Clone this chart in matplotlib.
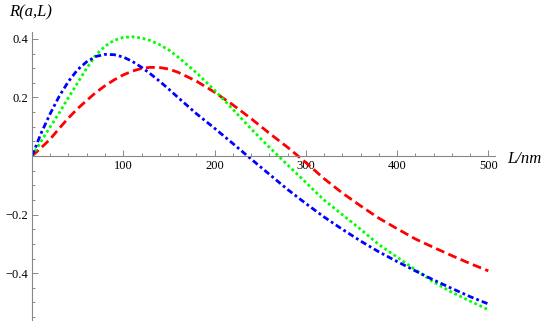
import matplotlib
matplotlib.use("Agg")
import matplotlib.pyplot as plt
from matplotlib.ticker import MultipleLocator, FixedLocator, FuncFormatter

# values
L_nm = [0, 10, 20, 30, 40, 50, 60, 70, 80, 90, 100, 110, 120, 130, 140, 150,
        160, 180, 200, 220, 240, 260, 280, 300, 320, 340, 360, 380, 400, 420,
        440, 460, 480, 500]

R_red = [0.0, 0.028, 0.058, 0.095, 0.13, 0.162, 0.19, 0.217, 0.24, 0.26,
         0.277, 0.29, 0.299, 0.303, 0.302, 0.297, 0.286, 0.256, 0.218, 0.175,
         0.128, 0.078, 0.03, -0.022, -0.077, -0.126, -0.17, -0.212, -0.248,
         -0.283, -0.312, -0.34, -0.367, -0.392]

R_green = [0.0, 0.05, 0.1, 0.148, 0.2, 0.25, 0.3, 0.345, 0.375, 0.395,
           0.405, 0.407, 0.403, 0.394, 0.38, 0.362, 0.338, 0.285, 0.225, 0.16,
           0.093, 0.03, -0.03, -0.09, -0.15, -0.2, -0.25, -0.302, -0.345,
           -0.388, -0.43, -0.465, -0.495, -0.525]

R_blue = [0.0, 0.078, 0.145, 0.205, 0.255, 0.295, 0.322, 0.34, 0.347, 0.346,
          0.338, 0.323, 0.303, 0.28, 0.255, 0.228, 0.2, 0.145, 0.095, 0.043,
          -0.01, -0.062, -0.114, -0.162, -0.208, -0.25, -0.29, -0.327, -0.36,
          -0.392, -0.423, -0.452, -0.48, -0.505]

x_major = [100, 200, 300, 400, 500]
y_major = [-0.4, -0.2, 0.2, 0.4]

plt.rcParams["font.family"] = ["Liberation Serif", "DejaVu Serif"]

fig = plt.figure(figsize=(5.45, 3.22), dpi=100)
ax = fig.add_axes([0.0587, 0.006, 0.849, 0.896])

ax.plot(L_nm, R_red, color=(1, 0, 0), lw=2.0, dashes=(3.2, 1.6))
ax.plot(L_nm, R_green, color=(0, 1, 0), lw=2.0, dashes=(1.0, 1.0))
ax.plot(L_nm, R_blue, color=(0, 0, 1), lw=2.0, dashes=(2.2, 1.1, 1.0, 1.1))

ax.set_xlim(0, 507)
ax.set_ylim(-0.56, 0.425)

# Mathematica style axes crossing at the origin
ax.spines["top"].set_visible(False)
ax.spines["right"].set_visible(False)
ax.spines["bottom"].set_position(("data", 0))
ax.spines["left"].set_position(("data", 0))
for s in ("bottom", "left"):
    ax.spines[s].set_color("#888888")
    ax.spines[s].set_linewidth(0.8)

ax.xaxis.set_major_locator(FixedLocator(x_major))
ax.xaxis.set_minor_locator(MultipleLocator(20))
ax.yaxis.set_major_locator(FixedLocator(y_major))
ax.yaxis.set_minor_locator(MultipleLocator(0.05))
ax.xaxis.set_major_formatter(FuncFormatter(lambda v, p: f"{v:.0f}"))
ax.yaxis.set_major_formatter(
    FuncFormatter(lambda v, p: f"{v:.1f}".replace("-", "\u2212")))

ax.tick_params(which="both", direction="in", color="#888888", width=0.7,
               labelsize=9, pad=3)
ax.tick_params(which="major", length=4)
ax.tick_params(which="minor", length=2.3)

fig.text(0.016, 0.962, "R(a,L)", fontsize=12, style="italic",
         ha="left", va="center")
fig.text(0.93, 0.505, "L/nm", fontsize=12, style="italic",
         ha="left", va="center")

fig.savefig("out.png", dpi=100)
